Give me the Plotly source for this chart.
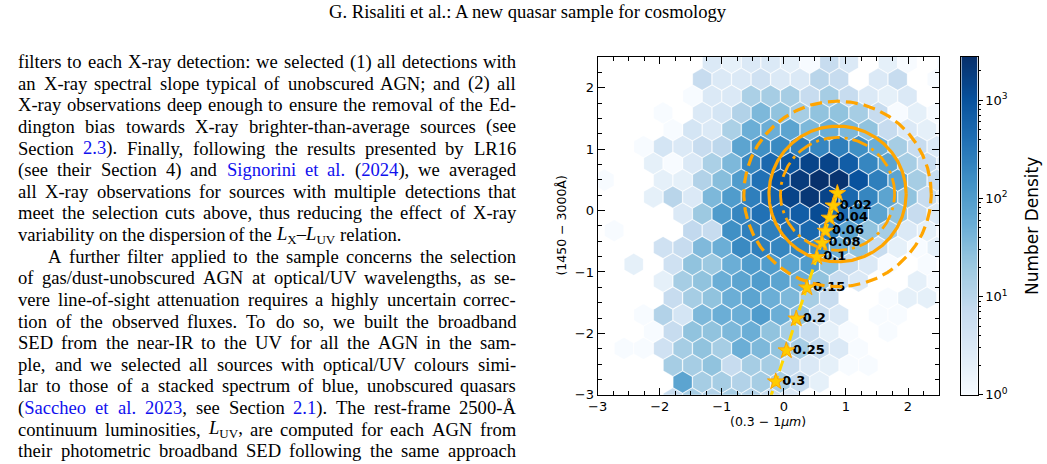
import re
import numpy as np
import plotly.graph_objects as go

W, H = 1047, 464

# ---------------- hexbin data (counts per hexagonal bin) ----------------
hex_bin_width = 0.315          # bin width along x (data units)
hex_row_step = 0.274           # vertical distance between bin rows
hex_ref_center = (0.574, 0.494)  # centre of bin (row 0, column 0)
hex_first_col = -11            # column index of the first entry of each row
hex_row_index = list(range(7, -14, -1))
hex_counts = [
    [0, 0, 0, 0, 0, 0, 3, 2, 3, 3, 2, 1, 7, 3, 0, 2, 1, 0, 1],                 # row 7
    [0, 0, 0, 0, 0, 7, 3, 3, 5, 3, 3, 10, 7, 0, 3, 7, 0, 1],                   # row 6
    [0, 0, 0, 0, 0, 1, 3, 3, 14, 16, 16, 7, 16, 7, 3, 2, 3, 0, 0],             # row 5
    [0, 0, 0, 1, 0, 3, 4, 12, 37, 25, 16, 25, 25, 16, 7, 1, 2, 1],             # row 4
    [0, 0, 0, 0, 1, 4, 3, 14, 52, 52, 75, 37, 52, 37, 25, 7, 3, 2, 1],         # row 3
    [0, 0, 1, 4, 3, 7, 9, 75, 150, 180, 250, 200, 250, 150, 52, 16, 7, 3],     # row 2
    [0, 0, 0, 2, 1, 3, 14, 37, 200, 500, 900, 1500, 1500, 700, 200, 75, 16, 7, 3],    # row 1
    [1, 0, 0, 2, 2, 12, 30, 100, 380, 1000, 2000, 2700, 2500, 1000, 250, 75, 16, 7],  # row 0
    [0, 0, 0, 2, 10, 3, 37, 100, 250, 600, 1500, 2200, 1500, 500, 200, 75, 25, 7, 3], # row -1
    [0, 0, 0, 0, 3, 20, 100, 200, 380, 500, 700, 1200, 500, 200, 75, 25, 7, 3],       # row -2
    [0, 1, 0, 0, 0, 8, 7, 150, 250, 250, 380, 500, 250, 75, 25, 16, 3, 2, 1],         # row -3
    [0, 0, 0, 5, 7, 35, 52, 180, 250, 200, 200, 150, 52, 25, 7, 2, 1, 2],             # row -4
    [0, 0, 2, 0, 5, 25, 20, 52, 100, 100, 75, 100, 25, 7, 3, 1, 0, 1, 0],             # row -5
    [0, 0, 0, 2, 16, 25, 52, 75, 100, 75, 52, 25, 7, 3, 0, 0, 2, 1],                  # row -6
    [0, 0, 0, 0, 7, 16, 25, 52, 75, 52, 37, 16, 7, 0, 0, 1, 2, 2, 0],                 # row -7
    [0, 0, 1, 12, 4, 37, 52, 52, 100, 52, 25, 7, 3, 0, 1, 1, 0, 0],                   # row -8
    [0, 0, 0, 1, 7, 25, 25, 37, 52, 25, 16, 7, 2, 1, 0, 1, 0, 0, 0],                  # row -9
    [0, 1, 1, 5, 16, 25, 16, 52, 37, 25, 16, 7, 3, 1, 0, 0, 0, 0],                    # row -10
    [0, 0, 0, 0, 16, 16, 25, 7, 16, 16, 7, 3, 2, 1, 1, 0, 0, 0, 0],                   # row -11
    [0, 0, 0, 0, 75, 16, 16, 12, 16, 16, 7, 2, 0, 0, 0, 0, 0, 0],                     # row -12
    [0, 0, 0, 0, 7, 16, 12, 16, 12, 7, 3, 0, 0, 0, 0, 0, 0, 0, 0],                    # row -13
]

# ---------------- redshift track ----------------
track_z = [0.0, 0.02, 0.04, 0.06, 0.08, 0.1, 0.15, 0.2, 0.25, 0.3, 0.35]
track_x = [0.862, 0.798, 0.734, 0.670, 0.616, 0.531, 0.371, 0.200, 0.040, -0.130, -0.300]
track_y = [0.281, 0.078, -0.120, -0.333, -0.530, -0.760, -1.256, -1.762, -2.280, -2.786, -3.292]
labelled_z = [0.02, 0.04, 0.06, 0.08, 0.1, 0.15, 0.2, 0.25, 0.3]

# ---------------- contours (circles) ----------------
circle_center = (0.865, 0.27)
circle_radii = [0.92, 1.105, 1.51]

# ---------------- colour scale ----------------
cbar_max_log = 3.44
cbar_major = [0, 1, 2, 3]
cbar_major_text = ["10<sup>0</sup>", "10<sup>1</sup>", "10<sup>2</sup>", "10<sup>3</sup>"]

# ---------------- page text ----------------
header_text = "G. Risaliti et al.: A new quasar sample for cosmology"
body_lines = [
    "filters to each X-ray detection: we selected (1) all detections with",
    "an X-ray spectral slope typical of unobscured AGN; and (2) all",
    "X-ray observations deep enough to ensure the removal of the Ed-",
    "dington bias towards X-ray brighter-than-average sources (see",
    "Section {2.3}). Finally, following the results presented by LR16",
    "(see their Section 4) and {Signorini} {et} {al.} ({2024}), we averaged",
    "all X-ray observations for sources with multiple detections that",
    "meet the selection cuts above, thus reducing the effect of X-ray",
    "variability on the dispersion of the <i>L</i><sub>X</sub>–<i>L</i><sub>UV</sub> relation.",
    "A further filter applied to the sample concerns the selection",
    "of gas/dust-unobscured AGN at optical/UV wavelengths, as se-",
    "vere line-of-sight attenuation requires a highly uncertain correc-",
    "tion of the observed fluxes. To do so, we built the broadband",
    "SED from the near-IR to the UV for all the AGN in the sam-",
    "ple, and we selected all sources with optical/UV colours simi-",
    "lar to those of a stacked spectrum of blue, unobscured quasars",
    "({Saccheo} {et} {al.} {2023}, see Section {2.1}). The rest-frame 2500-Å",
    "continuum luminosities, <i>L</i><sub>UV</sub>, are computed for each AGN from",
    "their photometric broadband SED following the same approach",
]
ragged_lines = {8}
indented_lines = {9}

# ---------------- layout geometry (pixels) ----------------
PL, PR, PT, PB = 593.3, 938.0, 58.0, 401.7
CBL, CBR = 960.5, 977.0
XR = [-3, 2.5]
YR = [-3, 2.5]
xdom = [PL / W, PR / W]
ydom = [(H - PB) / H, (H - PT) / H]

blues = ['#f7fbff', '#deebf7', '#c6dbef', '#9ecae1', '#6baed6',
         '#4292c6', '#2171b5', '#08519c', '#08306b']
cscale = [[i / (len(blues) - 1), c] for i, c in enumerate(blues)]

fig = go.Figure()

# hexagonal bins
hx, hy, hv = [], [], []
for k, counts in zip(hex_row_index, hex_counts):
    yc = hex_ref_center[1] + k * hex_row_step
    off = 0.0 if k % 2 == 0 else -hex_bin_width / 2
    for j, c in enumerate(counts):
        if c > 0:
            hx.append(hex_ref_center[0] + (hex_first_col + j) * hex_bin_width + off)
            hy.append(yc)
            hv.append(np.log10(c))
ppu = (PR - PL) / (XR[1] - XR[0])
hex_size = hex_bin_width * ppu / (1.05 * np.sqrt(3) / 2)
fig.add_trace(go.Scatter(
    x=hx, y=hy, mode='markers', hoverinfo='skip',
    marker=dict(symbol='hexagon', size=hex_size, color=hv, colorscale=cscale,
                cmin=0, cmax=cbar_max_log,
                line=dict(width=0.6, color='rgba(255,255,255,0.5)'))))

# track line
fig.add_trace(go.Scatter(x=track_x, y=track_y, mode='lines', hoverinfo='skip',
                         line=dict(color='#FFD700', width=3, dash='11px,5px')))
# labels (drawn below the contours, like in the original)
lab_idx = [track_z.index(z) for z in labelled_z]
label_shift = 6.5 / ppu
fig.add_trace(go.Scatter(x=[track_x[i] + label_shift for i in lab_idx],
                         y=[track_y[i] for i in lab_idx], mode='text',
                         text=[('%g' % track_z[i]) for i in lab_idx],
                         textposition='middle right', hoverinfo='skip',
                         textfont=dict(family='DejaVu Sans', size=13, color='black', weight='bold')))
# circles
theta = np.linspace(0, 2 * np.pi, 500)
circle_dash = ['16px,5px,3px,5px', 'solid', '12px,6px']
circle_width = [2.8, 3.2, 3.2]
for r, d, w in zip(circle_radii, circle_dash, circle_width):
    fig.add_trace(go.Scatter(x=circle_center[0] + r * np.cos(theta),
                             y=circle_center[1] + r * np.sin(theta),
                             mode='lines', hoverinfo='skip',
                             line=dict(color='#FFA500', width=w, dash=d)))
# stars
fig.add_trace(go.Scatter(x=track_x, y=track_y, mode='markers', hoverinfo='skip',
                         marker=dict(symbol='star', size=12.5, color='#FFCC00',
                                     line=dict(color='#FFA500', width=1))))

# colour bar drawn as a heatmap on its own axes
cb_vals = np.linspace(0, cbar_max_log, 300)
fig.add_trace(go.Heatmap(x=[0], y=cb_vals, z=cb_vals.reshape(-1, 1), colorscale=cscale,
                         zmin=0, zmax=cbar_max_log, showscale=False, xaxis='x2', yaxis='y2',
                         hoverinfo='skip'))
cb_minor = [np.log10(m * 10 ** d) for d in range(4) for m in range(2, 10)
            if np.log10(m * 10 ** d) < cbar_max_log]

tickfont = dict(family='DejaVu Sans', size=13, color='black')
axis_common = dict(showgrid=False, zeroline=False, showline=True, linecolor='black',
                   linewidth=1.2, mirror='allticks', ticks='inside', ticklen=7,
                   tickwidth=1.2, tickcolor='black', tickfont=tickfont, dtick=1, tick0=0,
                   minor=dict(dtick=0.25, tick0=0, ticks='inside', ticklen=4,
                              tickwidth=1, tickcolor='black', showgrid=False))

fig.update_layout(
    width=W, height=H, margin=dict(l=0, r=0, t=0, b=0),
    paper_bgcolor='white', plot_bgcolor='white', showlegend=False,
    xaxis=dict(domain=xdom, range=XR, anchor='y', **axis_common),
    yaxis=dict(domain=ydom, range=YR, anchor='x', **axis_common),
    xaxis2=dict(domain=[CBL / W, CBR / W], range=[-0.5, 0.5], anchor='y2',
                showticklabels=False, ticks='', showgrid=False, zeroline=False,
                showline=True, linecolor='black', linewidth=1, mirror=True),
    yaxis2=dict(domain=ydom, range=[0, cbar_max_log], anchor='x2', side='right',
                tickvals=cbar_major, ticktext=cbar_major_text, ticks='outside',
                ticklen=4, tickwidth=1, tickcolor='black', showline=True,
                linecolor='black', linewidth=1, mirror=True, showgrid=False,
                zeroline=False, tickfont=tickfont,
                minor=dict(tickvals=cb_minor, ticks='outside', ticklen=2,
                           tickwidth=0.8, tickcolor='black')),
)

ann = []
# axis titles
ann.append(dict(x=(PL + PR) / 2 / W, y=(H - 428.5) / H, xref='paper', yref='paper',
                xanchor='center', yanchor='middle',
                text='(0.3 − 1<i>μm</i>)', showarrow=False,
                font=dict(family='DejaVu Sans', size=12.5, color='black')))
ann.append(dict(x=557 / W, y=(H - (PT + PB) / 2) / H, xref='paper', yref='paper',
                xanchor='center', yanchor='middle',
                text='(1450 − 3000Å)', textangle=-90, showarrow=False,
                font=dict(family='DejaVu Sans', size=12.5, color='black')))
ann.append(dict(x=1032 / W, y=(H - (PT + PB) / 2) / H, xref='paper', yref='paper',
                xanchor='center', yanchor='middle',
                text='Number Density', textangle=-90, showarrow=False,
                font=dict(family='DejaVu Sans', size=17, color='black')))

# ---------------- page text with justified lines ----------------
TW = {' ': 250, '!': 333, '(': 333, ')': 333, ',': 250, '-': 333, '.': 250, '/': 278,
      ':': 278, ';': 278, '–': 500, 'Å': 722, '?': 444}
for ch in '0123456789':
    TW[ch] = 500
TW.update(dict(A=722, B=667, C=667, D=722, E=611, F=556, G=722, H=722, I=333, J=389, K=722,
               L=611, M=889, N=722, O=722, P=556, Q=722, R=667, S=556, T=611, U=722, V=722,
               W=944, X=722, Y=722, Z=611))
TW.update(dict(a=444, b=500, c=444, d=500, e=444, f=333, g=500, h=500, i=278, j=278, k=500,
               l=278, m=778, n=500, o=500, p=500, q=500, r=333, s=389, t=278, u=500, v=500,
               w=722, x=500, y=500, z=444))
FS = 18.6
SERIF = 'Liberation Serif'


def word_width(word):
    scale, tot = 1.0, 0.0
    for tok in re.split(r'(<[^>]+>)', word.replace('{', '').replace('}', '')):
        if tok.startswith('<'):
            if tok == '<sub>':
                scale = 0.7
            elif tok == '</sub>':
                scale = 1.0
            continue
        for ch in tok:
            tot += TW.get(ch, 500) * scale
    return tot / 1000 * FS


def to_html(word):
    return re.sub(r'\{([^}]*)\}', r'<span style="color:#1010ee">\1</span>', word)


TEXT_L, TEXT_R = 7.3, 509.5
LINE0, LSTEP = 62.7, 22.0
for n, line in enumerate(body_lines):
    words = line.split(' ')
    widths = [word_width(w) for w in words]
    left = TEXT_L + (30.0 if n in indented_lines else 0.0)
    natural_gap = 0.25 * FS
    if n in ragged_lines or len(words) < 2:
        gap = natural_gap
    else:
        gap = (TEXT_R - left - sum(widths)) / (len(words) - 1)
        gap = max(gap, 0.15 * FS)
    yc = LINE0 + n * LSTEP
    xpos = left
    for w, wd in zip(words, widths):
        ann.append(dict(x=xpos / W, y=(H - yc) / H, xref='paper', yref='paper',
                        xanchor='left', yanchor='middle', text=to_html(w), showarrow=False,
                        borderpad=0, font=dict(family=SERIF, size=FS, color='black')))
        xpos += wd + gap

ann.append(dict(x=523 / W, y=(H - 11.5) / H, xref='paper', yref='paper', text=header_text,
                xanchor='center', yanchor='middle',
                showarrow=False, borderpad=0, font=dict(family=SERIF, size=FS, color='black')))

fig.update_layout(annotations=ann)
fig.write_html("out.html")
